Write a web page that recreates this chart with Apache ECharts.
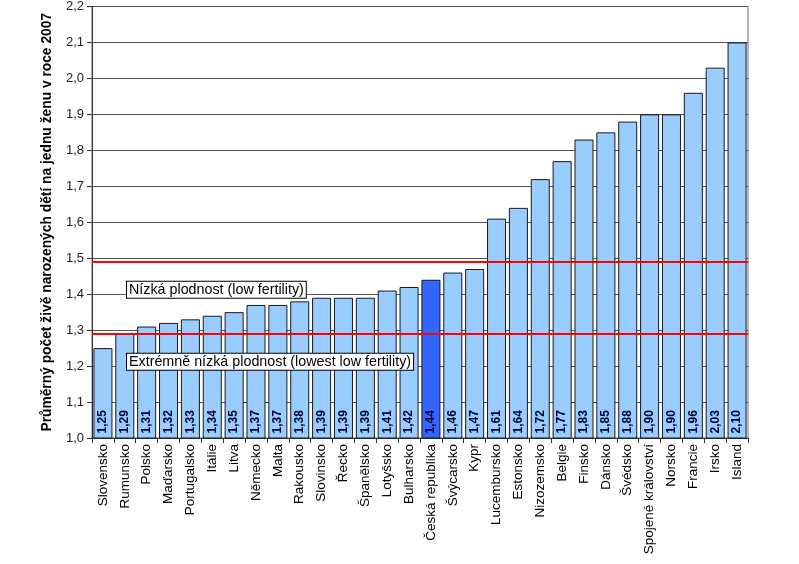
<!DOCTYPE html>
<html><head><meta charset="utf-8">
<script src="https://cdn.jsdelivr.net/npm/echarts@6/dist/echarts.min.js"></script>
<style>html,body{margin:0;padding:0;background:#fff}#c{width:799px;height:564px}</style>
</head><body><div id="c"></div>
<script>
var categories = ['Slovensko','Rumunsko','Polsko','Maďarsko','Portugalsko','Itálie','Litva','Německo','Malta','Rakousko','Slovinsko','Řecko','Španělsko','Lotyšsko','Bulharsko','Česká republika','Švýcarsko','Kypr','Lucembursko','Estonsko','Nizozemsko','Belgie','Finsko','Dánsko','Švédsko','Spojené království','Norsko','Francie','Irsko','Island'];
var values = [1.25,1.29,1.31,1.32,1.33,1.34,1.35,1.37,1.37,1.38,1.39,1.39,1.39,1.41,1.42,1.44,1.46,1.47,1.61,1.64,1.72,1.77,1.83,1.85,1.88,1.90,1.90,1.96,2.03,2.10];
var highlight = 'Česká republika';
var thresholds = [1.49, 1.29];
var thresholdLabels = ['Nízká plodnost (low fertility)', 'Extrémně nízká plodnost (lowest low fertility)'];
var yName = 'Průměrný počet živě narozených dětí na jednu ženu v roce 2007';

var font = 'Arial, "Liberation Sans", sans-serif';
var chart = echarts.init(document.getElementById('c'), null, {renderer:'canvas'});
var data = values.map(function(v, i){
  return {value: v, itemStyle: {color: categories[i] === highlight ? '#3366FF' : '#99CCFF'}};
});
chart.setOption({
  animation: false,
  textStyle: {fontFamily: font},
  grid: {left: 92, right: 51, top: 6, bottom: 126, show: true, borderColor: '#6e6e6e', borderWidth: 1, backgroundColor: 'transparent'},
  xAxis: {
    type: 'category', data: categories,
    axisLine: {lineStyle: {color: '#333', width: 1}},
    axisTick: {show: true, length: 5, lineStyle: {color: '#333'}},
    axisLabel: {rotate: 90, fontSize: 13.5, color: '#000', margin: 6, fontFamily: font, interval: 0}
  },
  yAxis: {
    type: 'value', min: 1.0, max: 2.2, interval: 0.1,
    name: yName, nameLocation: 'middle', nameGap: 38,
    nameTextStyle: {fontSize: 13.8, fontWeight: 'bold', color: '#000', fontFamily: font},
    axisLine: {show: true, lineStyle: {color: '#333'}},
    axisTick: {show: true, length: 5, lineStyle: {color: '#333'}},
    axisLabel: {fontSize: 13, color: '#222', margin: 8, fontFamily: font,
      formatter: function(v){ return v.toFixed(1).replace('.', ','); }},
    splitLine: {lineStyle: {color: '#555', width: 1}}
  },
  series: [{
    type: 'bar', data: data, barCategoryGap: '13%',
    itemStyle: {borderColor: '#1a1a1a', borderWidth: 1},
    label: {show: true, position: 'insideBottom', rotate: 90, align: 'left', verticalAlign: 'middle',
      distance: 5, fontSize: 12, fontWeight: 'bold', color: '#000033', fontFamily: font,
      formatter: function(p){ return p.value.toFixed(2).replace('.', ','); }},
    markLine: {
      silent: true, symbol: 'none', animation: false,
      lineStyle: {color: '#ff0000', width: 2, type: 'solid'},
      label: {show: false},
      data: thresholds.map(function(t){ return {yAxis: t}; })
    },
    z: 2
  }]
});

var g = [];
thresholds.forEach(function(t, i){
  var p = chart.convertToPixel({gridIndex: 0}, [0, t]);
  g.push({
    type: 'text', z: 100,
    x: 127, y: p[1] + 20,
    style: {text: thresholdLabels[i], font: '14.3px ' + font, fill: '#000',
      backgroundColor: '#fff', borderColor: '#000', borderWidth: 1, padding: [1, 2, 1, 2]}
  });
});
chart.setOption({graphic: g});
</script></body></html>
